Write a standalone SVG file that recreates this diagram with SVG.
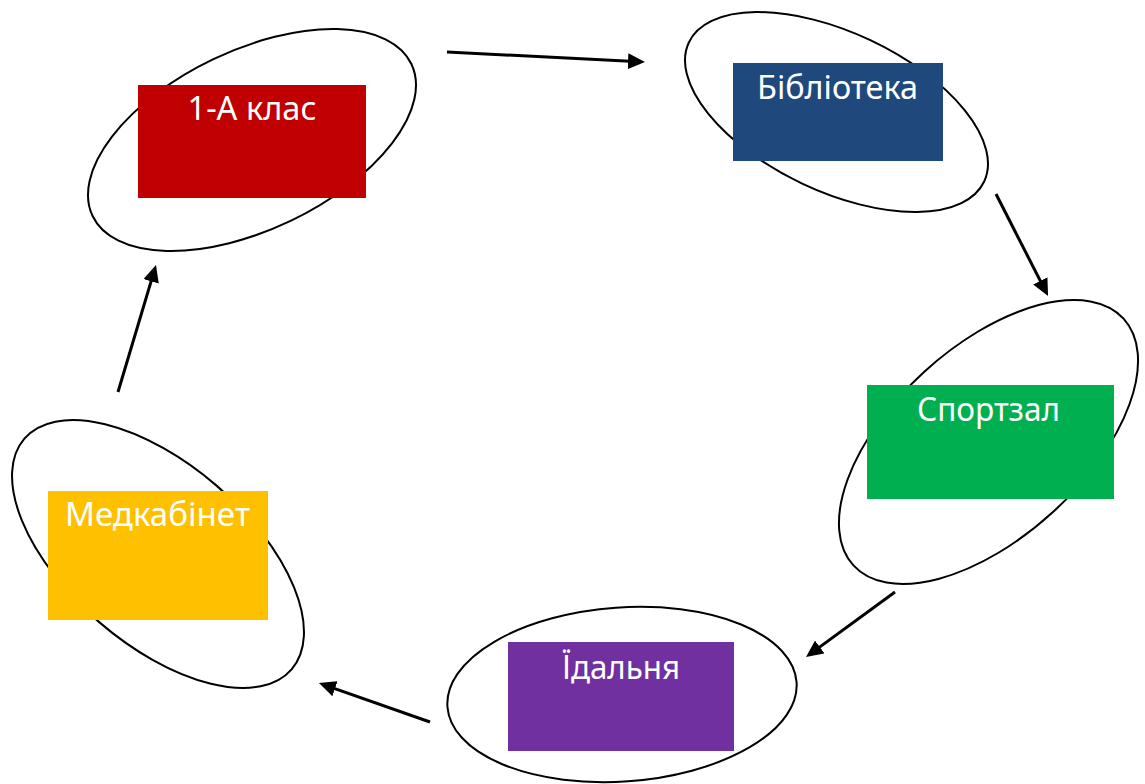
<svg xmlns="http://www.w3.org/2000/svg" width="1145" height="784" viewBox="0 0 1145 784">
<defs>
<marker id="ah" markerUnits="userSpaceOnUse" markerWidth="17" markerHeight="16" refX="7" refY="8" orient="auto">
<path d="M0,0 L17,8 L0,16 z" fill="#000"/>
</marker>
<style>
.ring{fill:none;stroke:#000;stroke-width:2}
.lbl{font-family:"Noto Sans","Open Sans","DejaVu Sans",sans-serif;font-size:32px;fill:#fff;text-anchor:middle}
.arr{stroke:#000;stroke-width:3;fill:none;marker-end:url(#ah)}
</style>
</defs>
<rect width="1145" height="784" fill="#fff"/>
<g id="node-1a">
<ellipse class="ring" cx="252" cy="140" rx="176.6" ry="89.6" transform="rotate(-25.5 252 140)"/>
<rect x="138" y="85" width="228" height="113" fill="#C00000"/>
<text class="lbl" x="252" y="120" textLength="129" lengthAdjust="spacingAndGlyphs">1-A клас</text>
</g>
<g id="node-library">
<ellipse class="ring" cx="836.5" cy="112" rx="163.2" ry="79.4" transform="rotate(25.2 836.5 112)"/>
<rect x="733" y="63" width="210" height="98" fill="#1F497D"/>
<text class="lbl" x="837.5" y="99" textLength="161" lengthAdjust="spacingAndGlyphs">Бібліотека</text>
</g>
<g id="node-gym">
<ellipse class="ring" cx="988.5" cy="442" rx="182.9" ry="95.2" transform="rotate(-42.4 988.5 442)"/>
<rect x="867" y="385" width="247" height="114" fill="#00B050"/>
<text class="lbl" x="988.5" y="421" textLength="143" lengthAdjust="spacingAndGlyphs">Спортзал</text>
</g>
<g id="node-canteen">
<ellipse class="ring" cx="622" cy="694.5" rx="175" ry="87" transform="rotate(-4 622 694.5)"/>
<rect x="508" y="642" width="226" height="109" fill="#7030A0"/>
<text class="lbl" x="621" y="679" textLength="118" lengthAdjust="spacingAndGlyphs">Їдальня</text>
</g>
<g id="node-med">
<ellipse class="ring" cx="158" cy="554" rx="176.5" ry="90" transform="rotate(40.8 158 554)"/>
<rect x="48" y="491" width="220" height="129" fill="#FFC000"/>
<text class="lbl" x="157.5" y="526" textLength="185" lengthAdjust="spacingAndGlyphs">Медкабінет</text>
</g>
<g id="connectors">
<line class="arr" x1="447" y1="52" x2="635" y2="61.5"/>
<line class="arr" x1="996" y1="194" x2="1043.5" y2="287.1"/>
<line class="arr" x1="895" y1="592" x2="814.1" y2="651.1"/>
<line class="arr" x1="430" y1="722" x2="328.4" y2="686.3"/>
<line class="arr" x1="118" y1="392" x2="153.1" y2="274.6"/>
</g>
</svg>
